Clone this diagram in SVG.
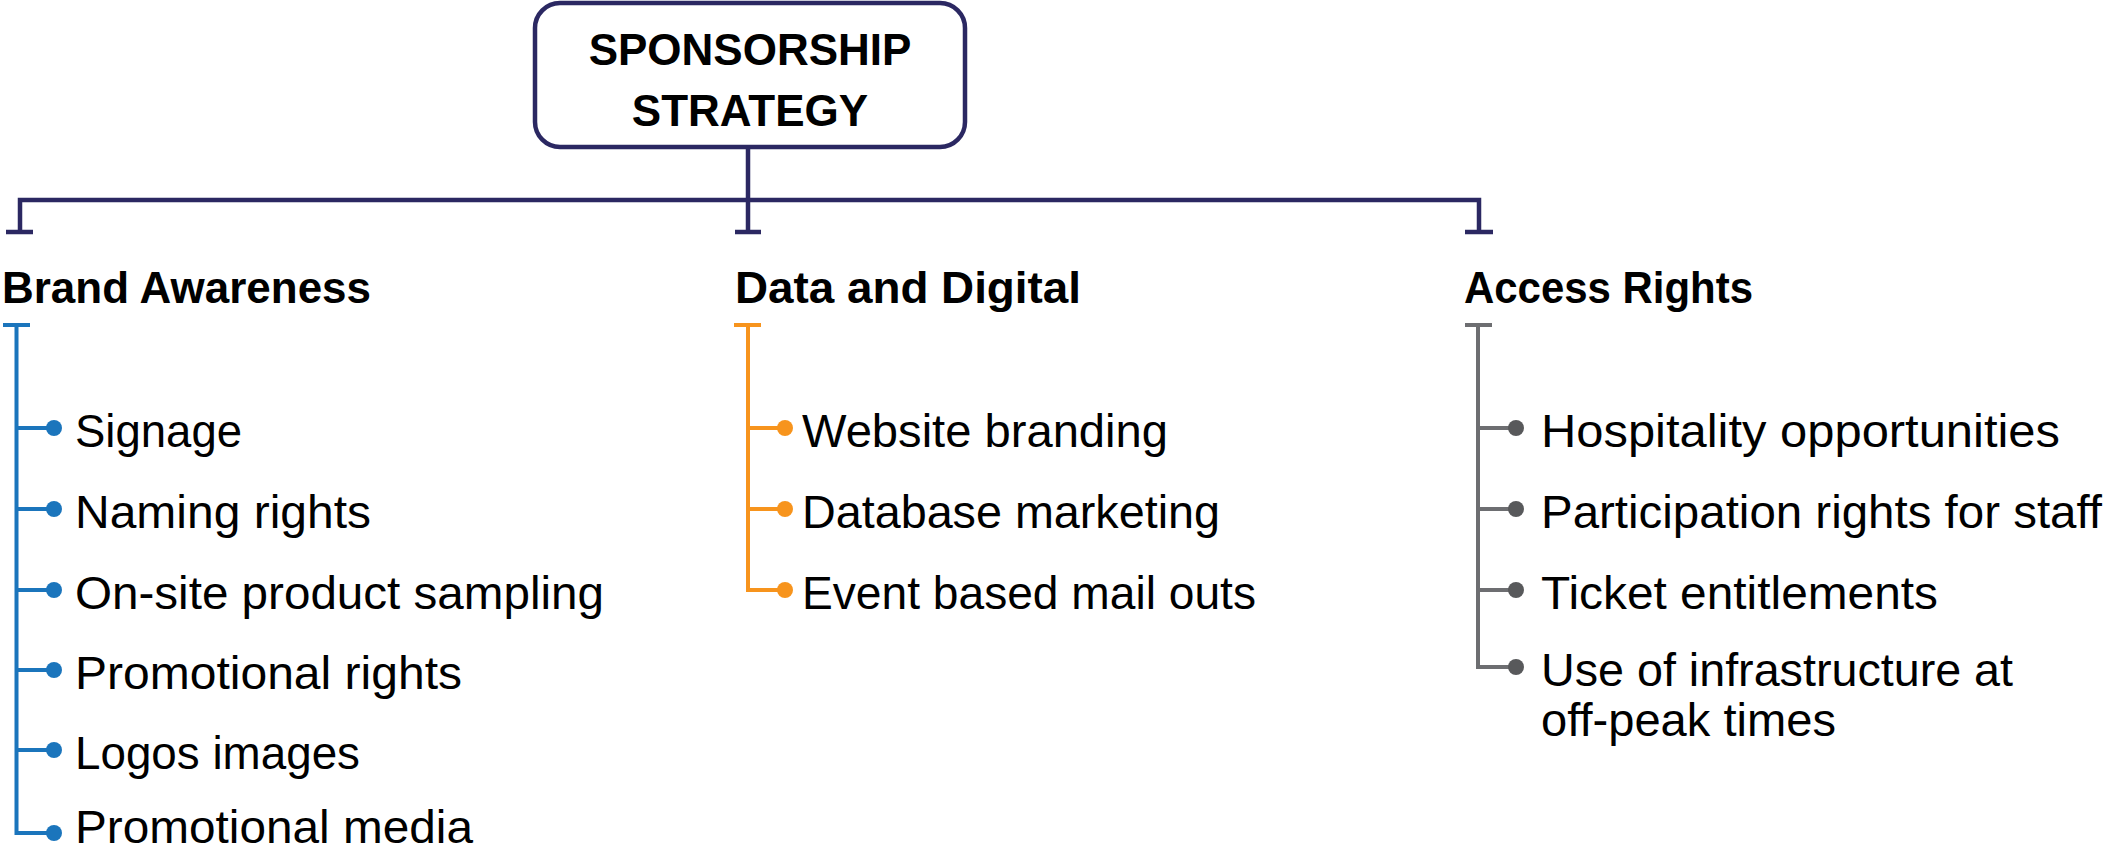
<svg xmlns="http://www.w3.org/2000/svg" width="2106" height="856" viewBox="0 0 2106 856">
<style>
.title{font-family:"Liberation Sans",Arial,sans-serif;font-weight:bold;font-size:44px;fill:#000;text-anchor:middle}
.head{font-family:"Liberation Sans",Arial,sans-serif;font-weight:bold;font-size:44px;fill:#000}
.item{font-family:"Liberation Sans",Arial,sans-serif;font-size:47px;fill:#000}
.navy{stroke:#2b2862;stroke-width:4.5;fill:none}
.blue{stroke:#1b75bc;stroke-width:4;fill:none}
.orange{stroke:#f7941d;stroke-width:4;fill:none}
.gray{stroke:#6d6e71;stroke-width:4;fill:none}
</style>
<rect width="2106" height="856" fill="#fff"/>
<g id="connectors">
  <path class="navy" d="M748 147 V200 M20 232 V200 H1479 V232 M748 200 V232 M6 232 H33 M735 232 H761 M1465 232 H1493"/>
  <path class="blue" d="M3 325 H30 M16.5 325 V833 H54 M16.5 428 H54 M16.5 509 H54 M16.5 590 H54 M16.5 670 H54 M16.5 750 H54"/>
  <path class="orange" d="M734 325 H761 M748 325 V590 H785 M748 428 H785 M748 509 H785"/>
  <path class="gray" d="M1465 325 H1492 M1478 325 V667 H1516 M1478 428 H1516 M1478 509 H1516 M1478 590 H1516"/>
</g>
<g id="root">
  <rect x="535" y="3" width="430" height="144" rx="25" fill="#fff" stroke="#2b2862" stroke-width="4.5"/>
  <text class="title" x="750" y="65">SPONSORSHIP</text>
  <text class="title" x="750" y="126">STRATEGY</text>
</g>
<g id="brand-awareness">
  <text class="head" x="2" y="303" textLength="369" lengthAdjust="spacingAndGlyphs">Brand Awareness</text>
  <g fill="#1b75bc">
    <circle cx="54" cy="428" r="8"/><circle cx="54" cy="509" r="8"/><circle cx="54" cy="590" r="8"/>
    <circle cx="54" cy="670" r="8"/><circle cx="54" cy="750" r="8"/><circle cx="54" cy="833" r="8"/>
  </g>
  <text class="item" x="75" y="447" textLength="167" lengthAdjust="spacingAndGlyphs">Signage</text>
  <text class="item" x="75" y="528" textLength="296" lengthAdjust="spacingAndGlyphs">Naming rights</text>
  <text class="item" x="75" y="609" textLength="529" lengthAdjust="spacingAndGlyphs">On-site product sampling</text>
  <text class="item" x="75" y="689" textLength="387" lengthAdjust="spacingAndGlyphs">Promotional rights</text>
  <text class="item" x="75" y="769" textLength="285" lengthAdjust="spacingAndGlyphs">Logos images</text>
  <text class="item" x="75" y="843" textLength="398" lengthAdjust="spacingAndGlyphs">Promotional media</text>
</g>
<g id="data-digital">
  <text class="head" x="735" y="303" textLength="346" lengthAdjust="spacingAndGlyphs">Data and Digital</text>
  <g fill="#f7941d">
    <circle cx="785" cy="428" r="8"/><circle cx="785" cy="509" r="8"/><circle cx="785" cy="590" r="8"/>
  </g>
  <text class="item" x="802" y="447" textLength="366" lengthAdjust="spacingAndGlyphs">Website branding</text>
  <text class="item" x="802" y="528" textLength="418" lengthAdjust="spacingAndGlyphs">Database marketing</text>
  <text class="item" x="802" y="609" textLength="454" lengthAdjust="spacingAndGlyphs">Event based mail outs</text>
</g>
<g id="access-rights">
  <text class="head" x="1464" y="303" textLength="289" lengthAdjust="spacingAndGlyphs">Access Rights</text>
  <g fill="#58595b">
    <circle cx="1516" cy="428" r="8"/><circle cx="1516" cy="509" r="8"/><circle cx="1516" cy="590" r="8"/><circle cx="1516" cy="667" r="8"/>
  </g>
  <text class="item" x="1541" y="447" textLength="519" lengthAdjust="spacingAndGlyphs">Hospitality opportunities</text>
  <text class="item" x="1541" y="528" textLength="561" lengthAdjust="spacingAndGlyphs">Participation rights for staff</text>
  <text class="item" x="1541" y="609" textLength="397" lengthAdjust="spacingAndGlyphs">Ticket entitlements</text>
  <text class="item" x="1541" y="686" textLength="472" lengthAdjust="spacingAndGlyphs">Use of infrastructure at</text>
  <text class="item" x="1541" y="736" textLength="295" lengthAdjust="spacingAndGlyphs">off-peak times</text>
</g>
</svg>
